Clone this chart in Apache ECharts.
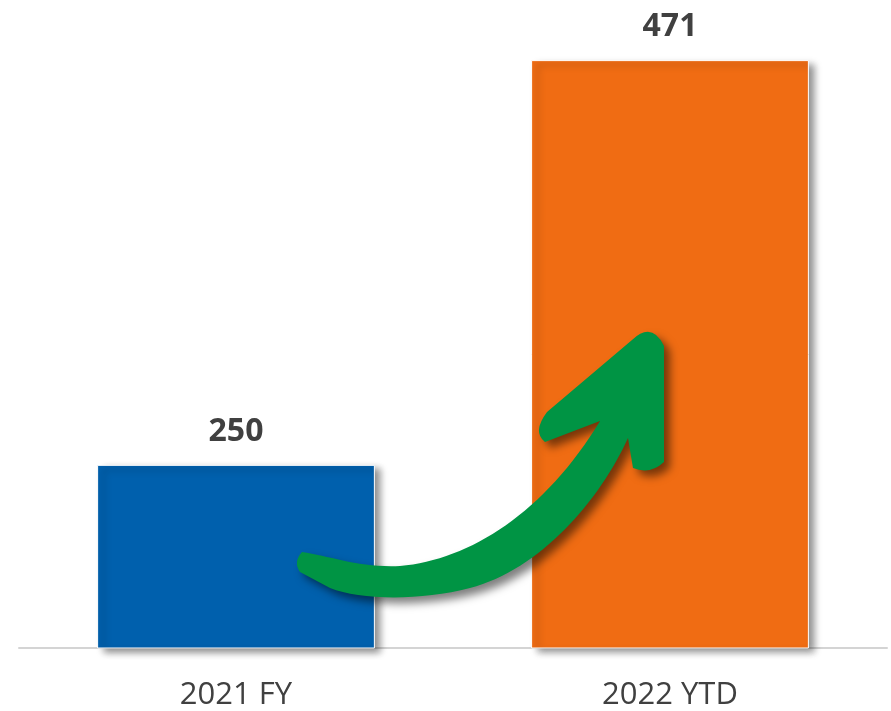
<!DOCTYPE html>
<html>
<head>
<meta charset="utf-8">
<script src="https://cdn.jsdelivr.net/npm/echarts@6/dist/echarts.min.js"></script>
<style>
  html, body { margin: 0; padding: 0; background: #ffffff; }
  #chart { width: 891px; height: 711px; }
</style>
</head>
<body>
<div id="chart"></div>
<script>
// Periods compared and their totals
const categories = ['2021 FY', '2022 YTD'];
const values = [250, 471];
const barColors = ['#0060AD', '#F06C13'];

const chart = echarts.init(document.getElementById('chart'), null, { renderer: 'canvas' });

// Hand-drawn style growth arrow sweeping from the first bar up into the second
const arrowPath =
  'M 302 552 ' +
  'C 330 556, 360 568, 400 566 ' +
  'C 470 560, 545 512, 600 421 ' +
  'L 545 442 ' +
  'Q 532 432, 547 412 ' +
  'L 632 340 ' +
  'Q 652 321, 664 346 ' +
  'L 664 462 ' +
  'Q 650 475, 633 468 ' +
  'L 628 438 ' +
  'C 600 500, 540 570, 470 588 ' +
  'C 420 601, 360 600, 330 588 ' +
  'L 300 572 ' +
  'Q 293 562, 302 552 Z';

chart.setOption({
  animation: false,
  grid: { left: 19, right: 4, top: 7, bottom: 63 },
  xAxis: {
    type: 'category',
    data: categories,
    axisLine: { show: true, lineStyle: { color: '#d4d4d4', width: 2 } },
    axisTick: { show: false },
    axisLabel: {
      color: '#404040',
      fontSize: 31,
      fontFamily: 'Open Sans',
      margin: 32
    }
  },
  yAxis: {
    type: 'value',
    min: 150,
    max: 500,
    show: false,
    splitLine: { show: false }
  },
  series: [{
    type: 'bar',
    barWidth: '64%',
    data: values.map((v, i) => ({
      value: v,
      itemStyle: { color: barColors[i] }
    })),
    itemStyle: {
      borderColor: '#ffffff',
      borderWidth: 1,
      shadowColor: 'rgba(0,0,0,0.45)',
      shadowBlur: 7,
      shadowOffsetX: 6,
      shadowOffsetY: 4
    },
    label: {
      show: true,
      position: 'top',
      distance: 17,
      color: '#404040',
      fontSize: 32,
      fontWeight: 'bold',
      fontFamily: 'Open Sans'
    }
  }, {
    type: 'custom',
    coordinateSystem: 'none',
    silent: true,
    z: 10,
    data: [0],
    renderItem: function () {
      return {
        type: 'path',
        shape: { pathData: arrowPath },
        style: {
          fill: '#009444',
          shadowColor: 'rgba(0,0,0,0.5)',
          shadowBlur: 8,
          shadowOffsetX: 6,
          shadowOffsetY: 6
        }
      };
    }
  }]
});
</script>
</body>
</html>
